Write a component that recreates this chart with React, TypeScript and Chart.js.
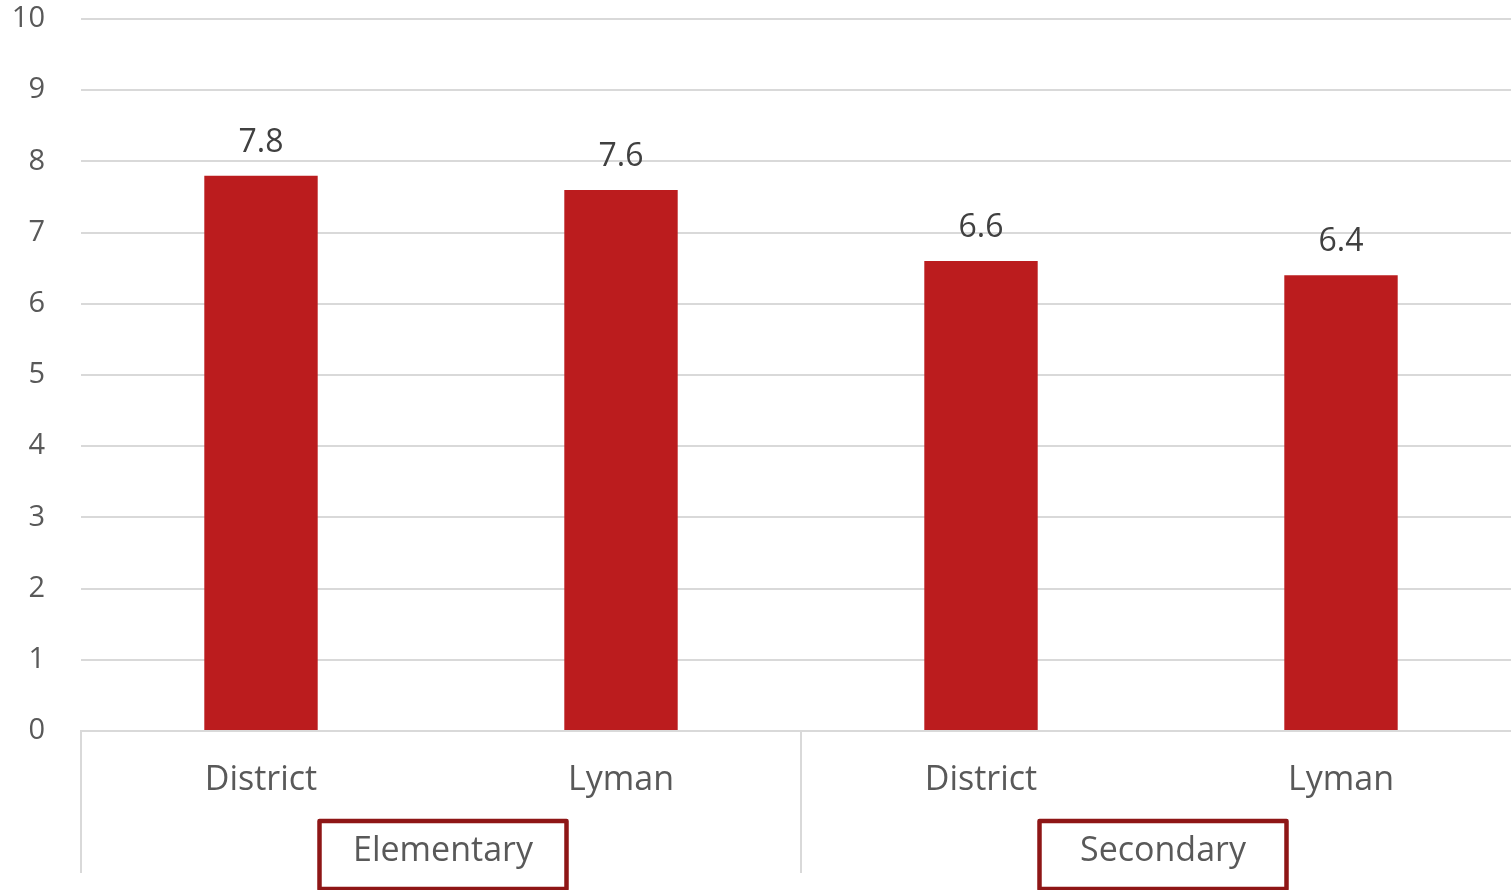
import React, { useEffect, useRef } from "react";
import { Chart, registerables } from "chart.js";

Chart.register(...registerables);

const categories = ["District", "Lyman", "District", "Lyman"];
const groupNames = ["Elementary", "Secondary"];
const groupSizes = [2, 2];
const values = [7.8, 7.6, 6.6, 6.4];
const yTicks = [0, 1, 2, 3, 4, 5, 6, 7, 8, 9, 10];

const FONT = "'Open Sans', sans-serif";
const BAR_COLOR = "#BB1C1E";
const BOX_COLOR = "#8E1616";
const GRID_COLOR = "#D9D9D9";

const overlayPlugin = {
  id: "overlay",
  afterDatasetsDraw(chart: any) {
    const ctx = chart.ctx;
    const meta = chart.getDatasetMeta(0);
    ctx.save();
    ctx.fillStyle = "#404040";
    ctx.font = `32px ${FONT}`;
    ctx.textAlign = "center";
    ctx.textBaseline = "middle";
    meta.data.forEach((bar: any, i: number) => {
      ctx.fillText(String(values[i]), bar.x, bar.y - 33);
    });
    ctx.restore();
  },
  afterDraw(chart: any) {
    const ctx = chart.ctx;
    const x = chart.scales.x;
    const area = chart.chartArea;
    const step = x.getPixelForValue(1) - x.getPixelForValue(0);
    ctx.save();
    ctx.strokeStyle = GRID_COLOR;
    ctx.lineWidth = 2;
    let idx = 0;
    const bounds: number[] = [];
    bounds.push(x.getPixelForValue(0) - step / 2);
    groupSizes.forEach((n) => {
      idx += n;
      bounds.push(x.getPixelForValue(idx - 1) + step / 2);
    });
    bounds.forEach((bx) => {
      ctx.beginPath();
      ctx.moveTo(Math.round(bx), area.bottom);
      ctx.lineTo(Math.round(bx), area.bottom + 142);
      ctx.stroke();
    });
    groupNames.forEach((name, g) => {
      const cx = (bounds[g] + bounds[g + 1]) / 2 + 2;
      const bw = 247;
      const top = 821;
      const h = 68;
      ctx.strokeStyle = BOX_COLOR;
      ctx.lineWidth = 4.5;
      ctx.lineJoin = "round";
      ctx.strokeRect(cx - bw / 2, top, bw, h);
      ctx.fillStyle = "#595959";
      ctx.font = `34px ${FONT}`;
      ctx.textAlign = "center";
      ctx.textBaseline = "middle";
      ctx.fillText(name, cx, 851);
    });
    ctx.restore();
  },
};

export default function App() {
  const ref = useRef<HTMLCanvasElement | null>(null);
  useEffect(() => {
    if (!ref.current) return;
    const chart = new Chart(ref.current, {
      type: "bar",
      data: {
        labels: categories,
        datasets: [
          {
            data: values,
            backgroundColor: BAR_COLOR,
            categoryPercentage: 1,
            barPercentage: 0.315,
          },
        ],
      },
      options: {
        animation: false,
        responsive: false,
        maintainAspectRatio: false,
        layout: { padding: { top: 19, left: 0, right: 0, bottom: 0 } },
        plugins: { legend: { display: false }, tooltip: { enabled: false } },
        scales: {
          y: {
            min: 0,
            max: 10,
            afterFit(scale: any) {
              scale.width = 81;
              scale.paddingTop = 0;
              scale.paddingBottom = 0;
            },
            afterBuildTicks(scale: any) {
              scale.ticks = yTicks.map((v) => ({ value: v }));
            },
            border: { display: false },
            grid: { color: GRID_COLOR, lineWidth: 2, drawTicks: false },
            ticks: {
              padding: 36,
              color: "#595959",
              font: { family: FONT, size: 29 },
            },
          },
          x: {
            afterFit(scale: any) {
              scale.height = 159;
              scale.paddingLeft = 0;
              scale.paddingRight = 0;
            },
            border: { display: true, color: GRID_COLOR, width: 2 },
            grid: { display: false, drawTicks: false },
            ticks: {
              padding: 29,
              color: "#595959",
              font: { family: FONT, size: 34 },
              maxRotation: 0,
              autoSkip: false,
            },
          },
        },
      },
      plugins: [overlayPlugin],
    });
    return () => chart.destroy();
  }, []);
  return (
    <div
      style={{
        position: "fixed",
        left: 0,
        top: 0,
        width: 1511,
        height: 890,
        overflow: "hidden",
        background: "#fff",
      }}
    >
      <canvas ref={ref} width={1521} height={890} style={{ display: "block" }} />
    </div>
  );
}
